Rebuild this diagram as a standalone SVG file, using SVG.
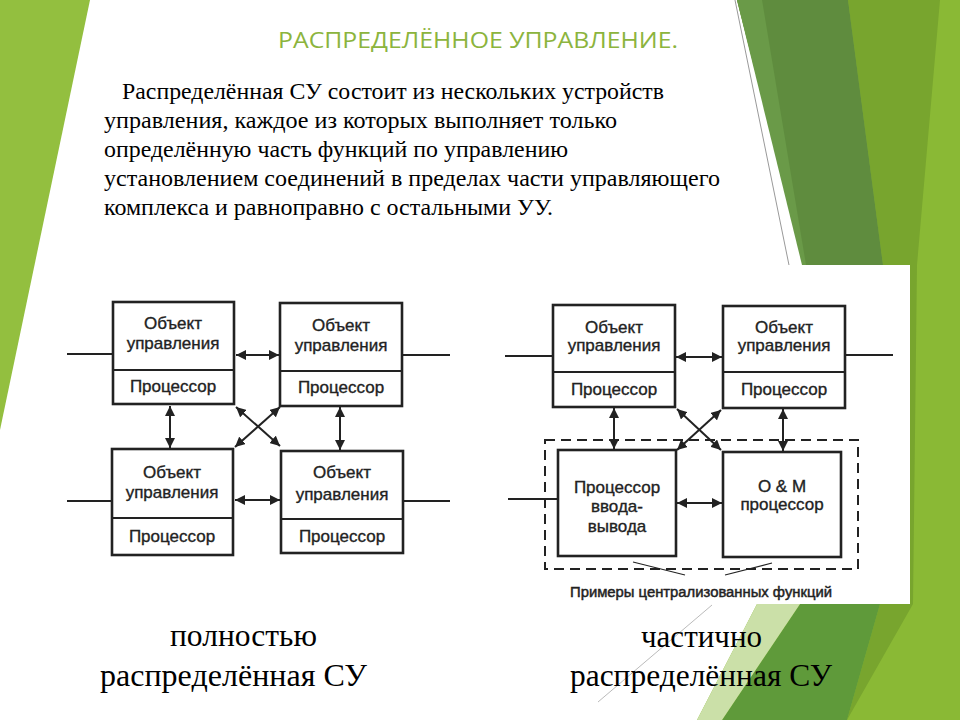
<svg xmlns="http://www.w3.org/2000/svg" width="960" height="720" viewBox="0 0 960 720">
<style>
.lbl{font-family:"Liberation Sans",Arial,sans-serif;font-size:17px;fill:#222;stroke:#222;stroke-width:0.35;text-anchor:middle}
.body{font-family:"Liberation Serif","Times New Roman",serif;font-size:24px;fill:#000}
.cap{font-family:"Liberation Serif","Times New Roman",serif;font-size:32px;fill:#000}
.title{font-family:"Open Sans","Liberation Sans",Arial,sans-serif;font-size:21px;fill:#8cb43d}
.box{fill:#fff;stroke:#222;stroke-width:2.6}
.div{stroke:#222;stroke-width:2}
.ln{stroke:#222;stroke-width:2;fill:none}
.arr{stroke:#222;stroke-width:2;fill:none;marker-start:url(#ah);marker-end:url(#ah)}
</style>
<defs>
<marker id="ah" viewBox="0 0 10 10" refX="10" refY="5" markerWidth="10" markerHeight="10" markerUnits="userSpaceOnUse" orient="auto-start-reverse">
<path d="M0,0 L10,5 L0,10 z" fill="#222"/>
</marker>
</defs>
<rect width="960" height="720" fill="#fff"/>
<g id="background">
<polygon points="0,0 90,0 0,430" fill="#93bf3f"/>
<polygon points="737,0 960,0 960,720 697,720 847,430" fill="#8ab935"/>
<polygon points="848,0 940,0 917,265 913,604 847,720 880,604 883,265" fill="#78a52e"/>
<polygon points="737,0 848,0 883,265 880,430 847,430" fill="#5f8c3e"/>
<polygon points="737,0 762,0 806,265 802,265" fill="#6a9a48"/>
<polygon points="847,430 880,430 880,604 847,720 722,720 800,604" fill="#5f9a3a"/>
<polygon points="847,430 800,604 722,720 697,720 757,604" fill="#cbe0a8"/>
<line x1="735" y1="0" x2="790" y2="270" stroke="#999" stroke-width="1"/>
<line x1="712" y1="605" x2="598" y2="702" stroke="#bbb" stroke-width="1"/>
<rect x="495" y="265" width="415" height="339" fill="#fff"/>
</g>
<g id="title">
<text class="title" x="278" y="48" textLength="400" lengthAdjust="spacingAndGlyphs">РАСПРЕДЕЛЁННОЕ УПРАВЛЕНИЕ.</text>
</g>
<g id="body-text">
<text class="body" x="122" y="99" textLength="542" lengthAdjust="spacingAndGlyphs">Распределённая СУ состоит из нескольких устройств</text>
<text class="body" x="104" y="128" textLength="513" lengthAdjust="spacingAndGlyphs">управления, каждое из которых выполняет только</text>
<text class="body" x="104" y="157" textLength="464" lengthAdjust="spacingAndGlyphs">определённую часть функций по управлению</text>
<text class="body" x="104" y="186" textLength="616" lengthAdjust="spacingAndGlyphs">установлением соединений в пределах части управляющего</text>
<text class="body" x="104" y="215" textLength="449" lengthAdjust="spacingAndGlyphs">комплекса и равноправно с остальными УУ.</text>
</g>
<g id="connectors">
<line class="ln" x1="67" y1="354" x2="113" y2="354"/>
<line class="ln" x1="402" y1="355" x2="450" y2="355"/>
<line class="ln" x1="67" y1="501" x2="112" y2="501"/>
<line class="ln" x1="403" y1="501" x2="450" y2="501"/>
<line class="arr" x1="236" y1="355" x2="279" y2="355"/>
<line class="arr" x1="235" y1="500" x2="280" y2="500"/>
<line class="arr" x1="170" y1="406" x2="170" y2="448"/>
<line class="arr" x1="340" y1="407" x2="340" y2="450"/>
<line class="arr" x1="236" y1="407" x2="280" y2="446"/>
<line class="arr" x1="280" y1="407" x2="235" y2="447"/>
<line class="ln" x1="505" y1="356" x2="553" y2="356"/>
<line class="ln" x1="845" y1="355" x2="893" y2="355"/>
<line class="ln" x1="508" y1="499" x2="558" y2="499"/>
<line class="arr" x1="676" y1="357" x2="722" y2="357"/>
<line class="arr" x1="614" y1="408" x2="614" y2="449"/>
<line class="arr" x1="783" y1="409" x2="783" y2="451"/>
<line class="arr" x1="677" y1="409" x2="721" y2="450"/>
<line class="arr" x1="721" y1="410" x2="677" y2="450"/>
<line class="arr" x1="677" y1="503" x2="722" y2="503"/>
<rect x="545" y="440" width="313" height="129" fill="none" stroke="#222" stroke-width="2" stroke-dasharray="10,6"/>
<line x1="633" y1="562" x2="685" y2="575" stroke="#222" stroke-width="1.2"/>
<line x1="772" y1="563" x2="725" y2="575" stroke="#222" stroke-width="1.2"/>
</g>
<g id="node-l-tl">
<rect class="box" x="113" y="302" width="121" height="102"/>
<line class="div" x1="113" y1="370" x2="234" y2="370"/>
<text class="lbl" x="173" y="329">Объект</text>
<text class="lbl" x="173" y="349">управления</text>
<text class="lbl" x="173" y="392">Процессор</text>
</g>
<g id="node-l-tr">
<rect class="box" x="280" y="303" width="122" height="103"/>
<line class="div" x1="280" y1="371" x2="402" y2="371"/>
<text class="lbl" x="341" y="331">Объект</text>
<text class="lbl" x="341" y="351">управления</text>
<text class="lbl" x="341" y="393">Процессор</text>
</g>
<g id="node-l-bl">
<rect class="box" x="112" y="449" width="121" height="106"/>
<line class="div" x1="112" y1="518" x2="233" y2="518"/>
<text class="lbl" x="172" y="478">Объект</text>
<text class="lbl" x="172" y="498">управления</text>
<text class="lbl" x="172" y="542">Процессор</text>
</g>
<g id="node-l-br">
<rect class="box" x="281" y="451" width="122" height="102"/>
<line class="div" x1="281" y1="519" x2="403" y2="519"/>
<text class="lbl" x="342" y="478">Объект</text>
<text class="lbl" x="342" y="500">управления</text>
<text class="lbl" x="342" y="542">Процессор</text>
</g>
<g id="node-r-tl">
<rect class="box" x="553" y="305" width="122" height="102"/>
<line class="div" x1="553" y1="372" x2="675" y2="372"/>
<text class="lbl" x="614" y="333">Объект</text>
<text class="lbl" x="614" y="351">управления</text>
<text class="lbl" x="614" y="395">Процессор</text>
</g>
<g id="node-r-tr">
<rect class="box" x="723" y="306" width="122" height="102"/>
<line class="div" x1="723" y1="372" x2="845" y2="372"/>
<text class="lbl" x="784" y="333">Объект</text>
<text class="lbl" x="784" y="351">управления</text>
<text class="lbl" x="784" y="395">Процессор</text>
</g>
<g id="node-r-io">
<rect class="box" x="558" y="450" width="118" height="106"/>
<text class="lbl" x="617" y="493">Процессор</text>
<text class="lbl" x="617" y="512">ввода-</text>
<text class="lbl" x="617" y="532">вывода</text>
</g>
<g id="node-r-om">
<rect class="box" x="723" y="452" width="118" height="105"/>
<text class="lbl" x="782" y="492">O &amp; M</text>
<text class="lbl" x="782" y="510">процессор</text>
</g>
<g id="label-central">
<text class="lbl" x="701" y="597" style="font-size:14px;stroke-width:0.45" textLength="262" lengthAdjust="spacingAndGlyphs">Примеры централизованных функций</text>
</g>
<g id="captions">
<text class="cap" x="170" y="646" textLength="147" lengthAdjust="spacingAndGlyphs">полностью</text>
<text class="cap" x="100" y="686" textLength="267" lengthAdjust="spacingAndGlyphs">распределённая СУ</text>
<text class="cap" x="641" y="647" textLength="121" lengthAdjust="spacingAndGlyphs">частично</text>
<text class="cap" x="570" y="686" textLength="262" lengthAdjust="spacingAndGlyphs">распределённая СУ</text>
</g>
</svg>
